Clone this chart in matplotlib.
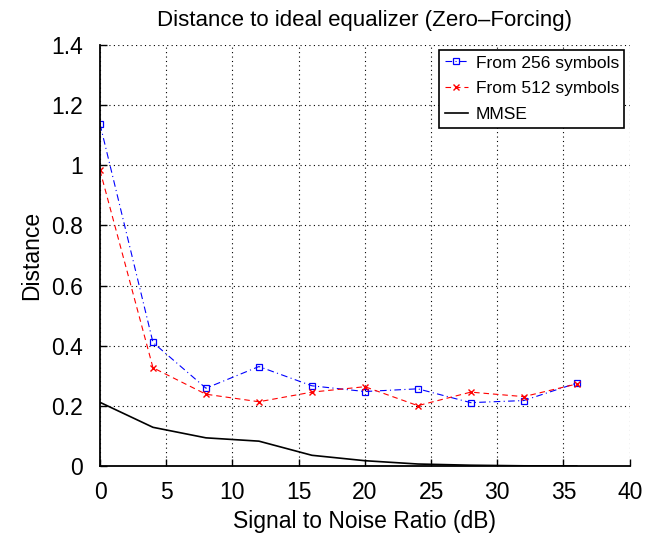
import matplotlib
matplotlib.use("Agg")
import matplotlib.pyplot as plt

plt.rcParams['font.family'] = ['Liberation Sans', 'DejaVu Sans']

snr = [0, 4, 8, 12, 16, 20, 24, 28, 32, 36]
dist_256 = [1.137, 0.411, 0.259, 0.331, 0.267, 0.248, 0.257, 0.211, 0.218, 0.276]
dist_512 = [0.983, 0.327, 0.239, 0.214, 0.246, 0.264, 0.201, 0.246, 0.231, 0.273]
mmse = [0.212, 0.129, 0.094, 0.083, 0.036, 0.018, 0.007, 0.003, 0.001, 0.0005]

xticks = [0, 5, 10, 15, 20, 25, 30, 35, 40]
yticks = [0, 0.2, 0.4, 0.6, 0.8, 1.0, 1.2, 1.4]
yticklabels = ['0', '0.2', '0.4', '0.6', '0.8', '1', '1.2', '1.4']

fig = plt.figure(figsize=(6.58, 5.42), dpi=100)
ax = fig.add_axes([0.152, 0.140, 0.805, 0.777])

ax.plot(snr, dist_256, color='#0000ff', linestyle=(0, (6, 3, 1, 3)), linewidth=0.8,
        marker='s', markersize=5, markerfacecolor='none', markeredgecolor='#0000ff',
        markeredgewidth=0.9, label='From 256 symbols')
ax.plot(snr, dist_512, color='#ff0000', linestyle=(0, (5, 3.5)), linewidth=0.8,
        marker='x', markersize=5, markeredgewidth=1.0, label='From 512 symbols')
ax.plot(snr, mmse, color='black', linestyle='-', linewidth=1.2, label='MMSE')

ax.set_xlim(0, 40)
ax.set_ylim(0, 1.4)
ax.set_xticks(xticks)
ax.set_yticks(yticks)
ax.set_yticklabels(yticklabels)
ax.tick_params(direction='in', length=5, width=1, labelsize=16.5)
ax.tick_params(axis='x', pad=11)
ax.tick_params(axis='y', pad=12)
ax.grid(True, color='black', linestyle=(0, (1, 3)), linewidth=0.8)
ax.spines['top'].set_visible(False)
ax.spines['right'].set_visible(False)
ax.spines['left'].set_linewidth(1.3)
ax.spines['bottom'].set_linewidth(1.3)

ax.set_title('Distance to ideal equalizer (Zero\u2013Forcing)', fontsize=16, pad=14)
ax.set_xlabel('Signal to Noise Ratio (dB)', fontsize=16.5, labelpad=4)
ax.set_ylabel('Distance', fontsize=16.5, labelpad=6)

leg = ax.legend(loc='upper right', fontsize=12.5, fancybox=False, framealpha=1,
                edgecolor='black', borderaxespad=0.3, handlelength=1.35,
                handletextpad=0.45, borderpad=0.3, labelspacing=0.62)
leg.get_frame().set_linewidth(1.2)

fig.savefig('out.png', dpi=100)
